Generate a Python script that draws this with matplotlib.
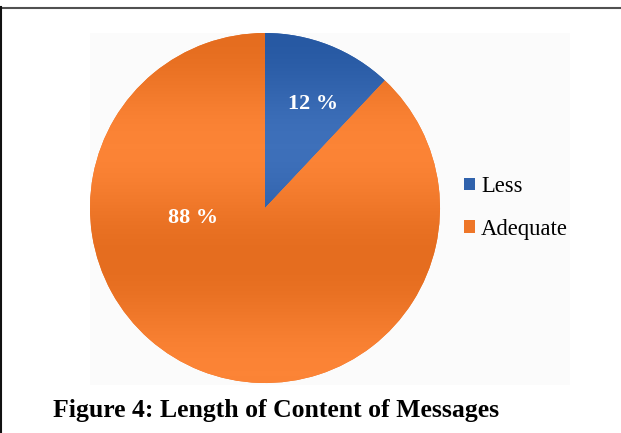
import matplotlib
matplotlib.use("Agg")
import matplotlib.pyplot as plt
import numpy as np
from matplotlib.patches import Rectangle
from matplotlib.lines import Line2D

categories = ["Less", "Adequate"]
values = [12, 88]
pct_labels = ["12 %", "88 %"]
colors = ["#3062AC", "#EE7628"]
caption = "Figure 4: Length of Content of Messages"

W, H = 621, 433
fig = plt.figure(figsize=(W / 100, H / 100), dpi=100)
fig.patch.set_facecolor("white")

# faint chart panel
fig.patches.append(Rectangle((90 / W, (H - 385) / H), 480 / W, 352 / H,
                             transform=fig.transFigure, facecolor="#FBFBFB",
                             edgecolor="none", zorder=-5))
# page border lines
fig.add_artist(Line2D([0, 1], [(H - 7.5) / H] * 2, transform=fig.transFigure,
                      color="#505050", lw=1.5))
fig.add_artist(Line2D([1 / W, 1 / W], [0, (H - 7) / H], transform=fig.transFigure,
                      color="#111111", lw=1.5))

R = 175
cx, cy = 265, 208
ax = fig.add_axes([(cx - R) / W, (H - cy - R) / H, 2 * R / W, 2 * R / H])
ax.set_facecolor("none")
wedges, _ = ax.pie(values, colors=colors, startangle=90, counterclock=False,
                   radius=1, wedgeprops=dict(linewidth=0))
ax.set_xlim(-1, 1)
ax.set_ylim(-1, 1)
ax.set_aspect("equal")
ax.axis("off")

# subtle vertical gradient shading on each wedge (top = row 0)
yy = np.linspace(0, 1, 256)[:, None]
shade = 0.5 - 0.5 * np.cos(2 * np.pi * yy / 0.65)
for w, c in zip(wedges, colors):
    base = np.array(matplotlib.colors.to_rgb(c))
    light = np.clip(base + 0.055, 0, 1)
    dark = np.clip(base - 0.035, 0, 1)
    img = dark[None, None, :] * (1 - shade[..., None]) + light[None, None, :] * shade[..., None]
    img = np.repeat(img, 2, axis=1)
    im = ax.imshow(img, extent=[-1, 1, -1, 1], origin="upper", zorder=2,
                   interpolation="bilinear", aspect="auto")
    im.set_clip_path(w)
ax.set_xlim(-1, 1)
ax.set_ylim(-1, 1)

# percentage labels
theta_mid = np.deg2rad(90 - 360 * values[0] / 100 / 2)
ax.text(0.66 * np.cos(theta_mid) + 0.03, 0.66 * np.sin(theta_mid) - 0.02, pct_labels[0],
        ha="center", va="center", color="white", fontsize=16, fontweight="bold",
        family="Liberation Serif", zorder=5)
ax.text(-0.41, -0.06, pct_labels[1], ha="center", va="center", color="white",
        fontsize=16, fontweight="bold", family="Liberation Serif", zorder=5)

# legend
handles = [Rectangle((0, 0), 1, 1, facecolor=c, edgecolor="none") for c in colors]
fig.legend(handles, categories, loc="upper left",
           bbox_to_anchor=(464 / W, (H - 176) / H), frameon=False,
           prop=dict(family="Liberation Serif", size=16.3),
           handlelength=0.5, handleheight=0.5, handletextpad=0.25,
           labelspacing=0.95, borderpad=0, borderaxespad=0)

fig.text(53 / W, (H - 417) / H, caption, ha="left", va="baseline",
         fontsize=18.5, fontweight="bold", family="Liberation Serif", color="black")

fig.savefig("out.png", dpi=100, facecolor="white")
